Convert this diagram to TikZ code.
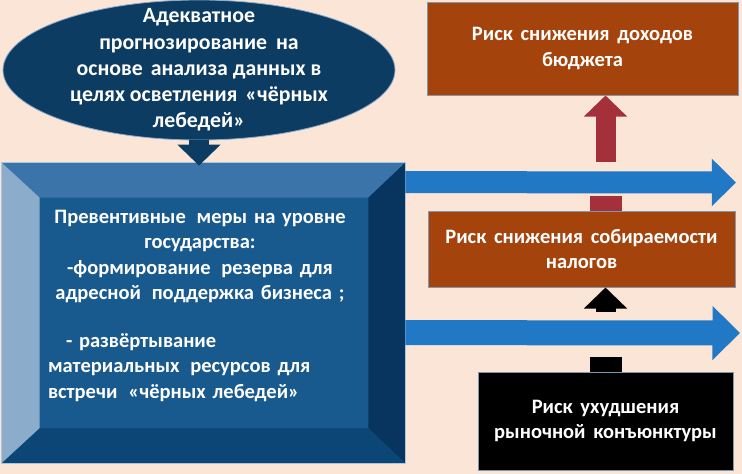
\documentclass[tikz,border=0pt]{standalone}
\usepackage{fontspec}
\setmainfont{Carlito}
\usepackage{tikz}
\usetikzlibrary{shapes.geometric,arrows.meta,calc}

\definecolor{peach}{HTML}{FBE5D6}
\definecolor{navy}{HTML}{0D3C63}
\definecolor{rust}{HTML}{A5430C}
\definecolor{riskred}{HTML}{A3303B}
\definecolor{flowblue}{HTML}{2178C5}
\definecolor{edgeline}{HTML}{7F98B0}
\definecolor{facecol}{HTML}{195A8E}
\definecolor{toplight}{HTML}{3A74A8}
\definecolor{leftlight}{HTML}{8CACCC}
\definecolor{rightdark}{HTML}{073560}
\definecolor{botdark}{HTML}{0C4676}

\begin{document}
\begin{tikzpicture}[x=1pt, y=-1pt,
    txt/.style={text=white, font=\fontsize{20.5}{25.5}\selectfont\bfseries, align=center, inner sep=0pt},
    riskbox/.style={rectangle, draw=edgeline, line width=1pt, fill=rust, txt},
    blockup/.style={line width=20pt, -{Triangle[width=42pt,length=21pt]}},
    stub/.style={line width=32pt},
    flow/.style={flowblue, line width=#1pt, -{Triangle[width=2.1*#1pt,length=1.1*#1pt]}}]
    \useasboundingbox[fill=peach] (0,0) rectangle (742,474);

    % forecast ellipse
    \node[ellipse, draw=leftlight, line width=0.8pt, fill=navy, minimum width=392pt, minimum height=140pt, inner sep=0pt] (forecast) at (199,70) {};
    \node[txt, font=\fontsize{21.8}{26.2}\selectfont\bfseries] (forecasttext) at (forecast.center) {Адекватное\\ прогнозирование\hspace{4pt} на\\ основе\hspace{3pt} анализа данных в\\ целях осветления\hspace{3pt} «чёрных\\ лебедей»};

    % bevelled box
    \node[rectangle, draw=leftlight!70!white, line width=0.8pt, fill=facecol, minimum width=403pt, minimum height=300pt, inner sep=0pt] (measures) at (203.5,313) {};
    \coordinate (inNW) at ($(measures.north west)+(38,35)$);
    \coordinate (inNE) at ($(measures.north east)+(-37,35)$);
    \coordinate (inSW) at ($(measures.south west)+(38,-35)$);
    \coordinate (inSE) at ($(measures.south east)+(-37,-35)$);
    \fill[toplight] (measures.north west) -- (measures.north east) -- (inNE) -- (inNW) -- cycle;
    \fill[leftlight] (measures.north west) -- (inNW) -- (inSW) -- (measures.south west) -- cycle;
    \fill[rightdark] (measures.north east) -- (measures.south east) -- (inSE) -- (inNE) -- cycle;
    \fill[botdark] (measures.south west) -- (inSW) -- (inSE) -- (measures.south east) -- cycle;
    \draw[leftlight!70!white, line width=0.8pt] (measures.north west) rectangle (measures.south east);
    \node[txt, text width=304pt, align=left] (measurestext) at (200,306)
      {{\centering Превентивные\hspace{4pt} меры на уровне\\ государства:\\ -формирование\hspace{4pt} резерва для\\ адресной\hspace{4pt} поддержка бизнеса ;\par}
       \vspace{22pt}
       \hspace*{18pt}- развёртывание\\
       материальных\hspace{4pt} ресурсов для\\
       встречи\hspace{4pt} «чёрных лебедей»};

    \draw[navy, blockup] (forecast.south) -- ($(forecast.south |- measures.north)+(0,3)$);

    % risk boxes
    \node[riskbox, minimum width=311pt, minimum height=93pt] (income) at (582.5,48.5) {Риск\hspace{3pt} снижения\hspace{3pt} доходов\\ бюджета};
    \node[riskbox, minimum width=307pt, minimum height=76pt] (taxes) at (581.5,249) {Риск\hspace{3pt} снижения\hspace{3pt} собираемости\\ налогов};
    \node[riskbox, fill=black, minimum width=255pt, minimum height=98pt] (market) at (605.5,421) {Риск\hspace{3pt} ухудшения\\ рыночной\hspace{3pt} конъюнктуры};

    \draw[riskred, stub] (market.north |- taxes.north) -- ++(0,-15);
    \draw[riskred, blockup] ($(market.north |- taxes.north)+(0,-49)$) -- (market.north |- income.south);
    \draw[black, stub] (market.north) -- ++(0,-15);
    \draw[black, blockup] ($(market.north)+(0,-60)$) -- (market.north |- taxes.south);

    % flow arrows
    \coordinate (tipA) at (736,182.5);
    \coordinate (tipB) at (740,333);
    \draw[flow=22] ($(measures.north east)+(0,19.5)$) -- (tipA);
    \draw[flow=25] ($(measures.north east)+(0,170)$) -- (tipB);
\end{tikzpicture}
\end{document}
